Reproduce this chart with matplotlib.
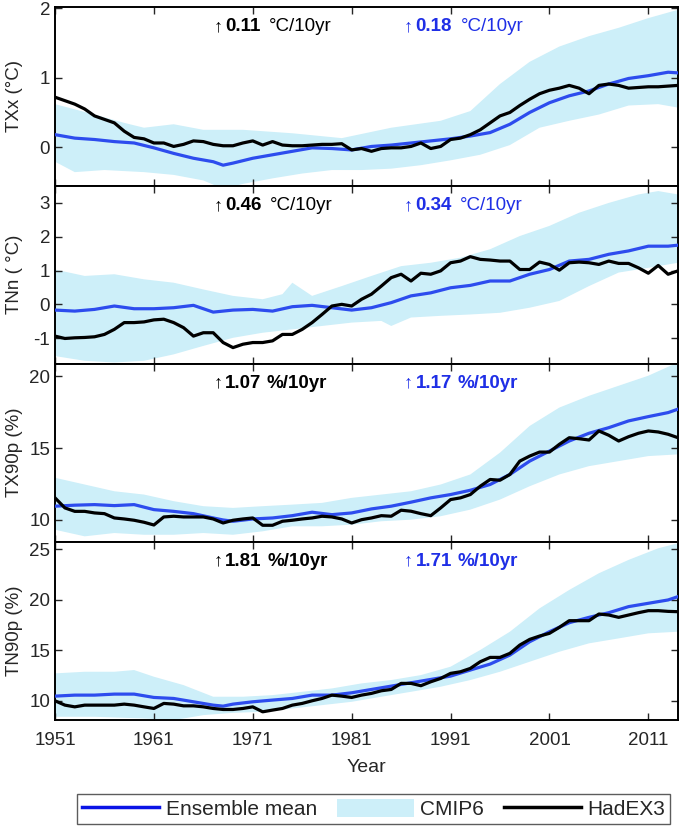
import numpy as np
import matplotlib
matplotlib.use("Agg")
import matplotlib.pyplot as plt
from matplotlib.lines import Line2D
from matplotlib.patches import Patch

plt.rcParams['font.family'] = ['Liberation Sans', 'DejaVu Sans']
plt.rcParams['axes.unicode_minus'] = False

years = np.arange(1951, 2015)

# ---------------- TXx ----------------
txx_obs = [0.72, 0.67, 0.62, 0.55, 0.45, 0.40, 0.35, 0.23, 0.14, 0.12,
           0.06, 0.06, 0.01, 0.04, 0.09, 0.08, 0.04, 0.02, 0.02, 0.06,
           0.09, 0.03, 0.08, 0.03, 0.02, 0.02, 0.03, 0.04, 0.04, 0.05,
           -0.04, -0.02, -0.06, -0.02, -0.01, -0.01, 0.01, 0.06, -0.02, 0.01,
           0.11, 0.13, 0.18, 0.25, 0.35, 0.45, 0.50, 0.60, 0.69, 0.77,
           0.82, 0.85, 0.89, 0.85, 0.77, 0.89, 0.91, 0.89, 0.85, 0.86,
           0.87, 0.87, 0.88, 0.89]
mean_years = [1951, 1953, 1955, 1957, 1959, 1961, 1963, 1965, 1967, 1968,
              1969, 1971, 1973, 1975, 1977, 1979, 1981, 1983, 1985, 1987,
              1989, 1991, 1993, 1995, 1997, 1999, 2001, 2003, 2005, 2007,
              2009, 2011, 2013, 2014]
txx_mean = [0.18, 0.13, 0.11, 0.08, 0.06, -0.01, -0.09, -0.16, -0.21, -0.26,
            -0.23, -0.16, -0.11, -0.06, -0.01, -0.02, -0.04, 0.01, 0.03, 0.06,
            0.09, 0.12, 0.16, 0.21, 0.33, 0.50, 0.64, 0.74, 0.81, 0.91,
            0.99, 1.03, 1.08, 1.07]
txx_up_years = [1951, 1955, 1958, 1960, 1963, 1966, 1970, 1975, 1980, 1985,
                1990, 1993, 1996, 1999, 2002, 2005, 2008, 2011, 2014]
txx_upper = [0.62, 0.47, 0.35, 0.28, 0.33, 0.25, 0.25, 0.20, 0.13, 0.28,
             0.38, 0.52, 0.91, 1.23, 1.45, 1.60, 1.72, 1.86, 1.98]
txx_lo_years = [1951, 1953, 1956, 1960, 1963, 1966, 1968, 1970, 1973, 1976,
                1979, 1982, 1985, 1988, 1991, 1994, 1997, 2000, 2003, 2006,
                2009, 2012, 2014]
txx_lower = [-0.21, -0.36, -0.33, -0.36, -0.40, -0.48, -0.60, -0.53, -0.45, -0.38,
             -0.33, -0.33, -0.31, -0.26, -0.19, -0.11, 0.03, 0.28, 0.38, 0.47,
             0.60, 0.62, 0.57]

# ---------------- TNn ----------------
tnn_obs = [-0.94, -1.01, -0.99, -0.98, -0.96, -0.89, -0.74, -0.54, -0.54, -0.52,
           -0.46, -0.44, -0.54, -0.69, -0.94, -0.84, -0.84, -1.13, -1.28, -1.18,
           -1.13, -1.13, -1.08, -0.89, -0.89, -0.74, -0.54, -0.30, -0.05, 0.00,
           -0.05, 0.15, 0.30, 0.54, 0.79, 0.89, 0.69, 0.92, 0.89, 0.99,
           1.23, 1.28, 1.41, 1.33, 1.31, 1.28, 1.28, 1.03, 1.03, 1.25,
           1.18, 1.01, 1.23, 1.25, 1.23, 1.18, 1.28, 1.21, 1.21, 1.08,
           0.92, 1.15, 0.89, 0.99]
tnn_mean = [-0.17, -0.20, -0.15, -0.05, -0.13, -0.13, -0.10, -0.03, -0.23, -0.20,
            -0.17, -0.15, -0.20, -0.07, -0.03, -0.10, -0.17, -0.10, 0.05, 0.25,
            0.34, 0.49, 0.56, 0.69, 0.69, 0.89, 1.03, 1.28, 1.33, 1.48,
            1.58, 1.72, 1.72, 1.75]
tnn_up_years = [1951, 1954, 1957, 1960, 1963, 1966, 1969, 1972, 1974, 1975,
                1977, 1980, 1983, 1986, 1989, 1992, 1995, 1998, 2001, 2004,
                2007, 2010, 2012, 2014]
tnn_upper = [1.03, 0.84, 0.89, 0.74, 0.64, 0.44, 0.25, 0.15, 0.30, 0.64,
             0.25, 0.54, 0.84, 1.13, 1.23, 1.38, 1.63, 2.02, 2.32, 2.71,
             3.00, 3.25, 3.35, 3.25]
tnn_lo_years = [1951, 1954, 1957, 1960, 1963, 1966, 1969, 1972, 1975, 1978,
                1981, 1984, 1985, 1987, 1990, 1993, 1996, 1999, 2002, 2005,
                2008, 2011, 2014]
tnn_lower = [-1.53, -1.67, -1.72, -1.67, -1.48, -1.23, -0.99, -0.84, -0.74, -0.64,
             -0.54, -0.49, -0.64, -0.39, -0.34, -0.30, -0.25, -0.10, 0.10, 0.54,
             0.94, 1.08, 1.23]

# ---------------- TX90p ----------------
tx90_obs = [11.54, 10.84, 10.60, 10.60, 10.49, 10.44, 10.14, 10.07, 9.98, 9.84,
            9.65, 10.21, 10.26, 10.21, 10.21, 10.21, 10.07, 9.79, 9.98, 10.07,
            10.14, 9.63, 9.63, 9.91, 9.98, 10.07, 10.14, 10.26, 10.21, 10.07,
            9.79, 10.02, 10.14, 10.30, 10.26, 10.68, 10.61, 10.44, 10.30, 10.84,
            11.42, 11.54, 11.77, 12.35, 12.82, 12.77, 13.17, 14.10, 14.45, 14.73,
            14.73, 15.27, 15.73, 15.66, 15.57, 16.20, 15.90, 15.50, 15.80, 16.04,
            16.20, 16.13, 15.97, 15.73]
tx90_mean = [10.96, 11.03, 11.07, 11.00, 11.07, 10.72, 10.60, 10.44, 10.14, 10.00,
             9.91, 10.07, 10.14, 10.30, 10.54, 10.37, 10.49, 10.77, 10.96, 11.24,
             11.54, 11.77, 12.07, 12.47, 13.17, 14.10, 14.80, 15.50, 16.04, 16.43,
             16.90, 17.20, 17.48, 17.72]
tx90_up_years = [1951, 1954, 1957, 1960, 1963, 1966, 1969, 1972, 1975, 1978,
                 1981, 1984, 1987, 1990, 1993, 1996, 1999, 2002, 2005, 2008,
                 2011, 2014]
tx90_upper = [12.94, 12.47, 12.00, 11.77, 11.31, 10.96, 10.84, 10.96, 11.07, 11.19,
              11.54, 11.77, 12.00, 12.47, 13.17, 14.69, 16.55, 17.83, 18.65, 19.35,
              20.05, 20.98]
tx90_lower = [9.32, 8.86, 9.09, 8.97, 8.97, 9.09, 8.97, 9.21, 9.56, 9.56,
              9.67, 9.91, 10.02, 10.26, 10.72, 11.42, 12.35, 13.17, 13.75, 14.10,
              14.45, 14.57]

# ---------------- TN90p ----------------
tn90_obs = [10.00, 9.57, 9.40, 9.57, 9.57, 9.57, 9.57, 9.67, 9.57, 9.40,
            9.24, 9.74, 9.67, 9.50, 9.50, 9.40, 9.24, 9.14, 9.14, 9.24,
            9.40, 8.91, 9.08, 9.24, 9.57, 9.74, 10.00, 10.23, 10.56, 10.46,
            10.33, 10.56, 10.73, 10.99, 11.12, 11.72, 11.72, 11.49, 11.88, 12.21,
            12.71, 12.87, 13.20, 13.86, 14.29, 14.29, 14.69, 15.51, 16.07, 16.40,
            16.67, 17.26, 17.92, 17.92, 17.92, 18.58, 18.48, 18.25, 18.48, 18.71,
            18.91, 18.91, 18.84, 18.81]
tn90_mean = [10.46, 10.56, 10.56, 10.66, 10.66, 10.33, 10.23, 9.90, 9.57, 9.47,
             9.67, 9.90, 10.07, 10.23, 10.56, 10.56, 10.79, 11.12, 11.45, 11.78,
             12.11, 12.44, 13.04, 13.63, 14.52, 15.84, 16.83, 17.72, 18.25, 18.71,
             19.31, 19.64, 19.97, 20.30]
tn90_up_years = [1951, 1954, 1957, 1959, 1961, 1964, 1967, 1970, 1973, 1976,
                 1979, 1982, 1985, 1988, 1991, 1994, 1997, 2000, 2003, 2006,
                 2009, 2012, 2014]
tn90_upper = [12.71, 12.87, 12.87, 13.04, 12.38, 11.55, 10.40, 10.40, 10.56, 10.89,
              11.22, 11.72, 12.05, 12.54, 13.37, 15.02, 16.83, 19.14, 20.96, 22.61,
              23.93, 25.08, 25.58]
tn90_lo_years = [1951, 1955, 1960, 1963, 1966, 1969, 1972, 1975, 1978, 1981,
                 1984, 1987, 1990, 1993, 1996, 1999, 2002, 2005, 2008, 2011, 2014]
tn90_lower = [8.42, 8.42, 8.25, 8.09, 8.58, 8.81, 8.91, 9.24, 9.57, 9.90,
              10.40, 10.89, 11.39, 12.05, 12.87, 13.86, 14.85, 15.68, 16.17, 16.67,
              16.83]

ylabels = ["TXx (\u00b0C)", "TNn ( \u00b0C)", "TX90p (%)", "TN90p (%)"]
obs_trend = ["0.11", "0.46", "1.07", "1.81"]
mod_trend = ["0.18", "0.34", "1.17", "1.71"]
units = ["\u00b0C/10yr", "\u00b0C/10yr", "%/10yr", "%/10yr"]
xticks = [1951, 1961, 1971, 1981, 1991, 2001, 2011]
legend_labels = ["Ensemble mean", "CMIP6", "HadEX3"]

panels = [
    (txx_obs, txx_mean, txx_up_years, txx_upper, txx_lo_years, txx_lower, (-0.56, 2.02), [0, 1, 2]),
    (tnn_obs, tnn_mean, tnn_up_years, tnn_upper, tnn_lo_years, tnn_lower, (-1.75, 3.5), [-1, 0, 1, 2, 3]),
    (tx90_obs, tx90_mean, tx90_up_years, tx90_upper, tx90_up_years, tx90_lower, (8.5, 20.9), [10, 15, 20]),
    (tn90_obs, tn90_mean, tn90_up_years, tn90_upper, tn90_lo_years, tn90_lower, (8.1, 25.75), [10, 15, 20, 25]),
]

FILL = '#cdeff9'
BLUE = '#2d4cee'
TXTBLUE = '#1f2fe6'
GRAY = '#262626'

W, H = 685, 827
fig = plt.figure(figsize=(W / 100, H / 100), dpi=100)
bounds = [(7, 186), (186, 363.5), (363.5, 541.5), (541.5, 720)]
left_px, right_px = 55, 678

for i, (obs, mean, uy, up, ly, lo, ylim, yt) in enumerate(panels):
    top, bot = bounds[i]
    ax = fig.add_axes([left_px / W, 1 - bot / H, (right_px - left_px) / W, (bot - top) / H])
    px = list(uy) + list(ly)[::-1]
    py = list(up) + list(lo)[::-1]
    ax.fill(px, py, color=FILL, lw=0, zorder=1)
    ax.plot(mean_years, mean, color=BLUE, lw=2.3, zorder=3)
    ax.plot(years, obs, color='black', lw=2.3, zorder=4)
    ax.set_xlim(1951, 2014)
    ax.set_ylim(*ylim)
    ax.set_yticks(yt)
    ax.set_xticks(xticks)
    ax.tick_params(direction='in', length=5, width=1.0, top=True, right=True,
                   labelsize=13.5, colors=GRAY)
    ax.tick_params(axis='x', pad=8.5)
    ax.tick_params(axis='y', pad=3.5)
    for s in ax.spines.values():
        s.set_linewidth(1.4)
        s.set_color('black')
    ax.set_ylabel(ylabels[i], fontsize=13.5, color=GRAY)
    ax.yaxis.set_label_coords(-0.052, 0.5)
    if i < 3:
        ax.tick_params(labelbottom=False)
    else:
        ax.set_xlabel("Year", fontsize=14, color=GRAY, labelpad=7)

    # trend annotations
    bold_unit = 'bold' if i >= 2 else 'normal'
    ybase = 1 - 24.0 / (bot - top)
    for x0, val, col in [(0.254, obs_trend[i], 'black'), (0.560, mod_trend[i], TXTBLUE)]:
        t1 = ax.text(x0, ybase, "\u2191", transform=ax.transAxes, fontsize=13,
                     color=col, va='baseline', ha='left')
        t2 = ax.annotate(val, xy=(1, ybase), xycoords=(t1, ax.transAxes),
                         xytext=(2, 0), textcoords='offset points',
                         fontsize=13.5, fontweight='bold', color=col,
                         va='baseline', ha='left')
        ax.annotate(units[i], xy=(1, ybase), xycoords=(t2, ax.transAxes),
                    xytext=(6 if i < 2 else 4, 0), textcoords='offset points',
                    fontsize=13.5, fontweight=bold_unit, color=col,
                    va='baseline', ha='left')

handles = [Line2D([], [], color='#0a14e6', lw=2.5),
           Patch(facecolor=FILL, edgecolor='none'),
           Line2D([], [], color='black', lw=2.5)]
leg = fig.legend(handles, legend_labels, ncol=3,
                 loc='center left', bbox_to_anchor=(77 / W, 1 - 809 / H),
                 fontsize=15, frameon=True, fancybox=False, handlelength=3.7,
                 handletextpad=0.3, columnspacing=0.95, borderpad=0.25,
                 handleheight=1.0, borderaxespad=0)
leg.get_frame().set_edgecolor('#333333')
leg.get_frame().set_linewidth(1.0)
for t in leg.get_texts():
    t.set_color(GRAY)

fig.savefig("out.png", dpi=100)
